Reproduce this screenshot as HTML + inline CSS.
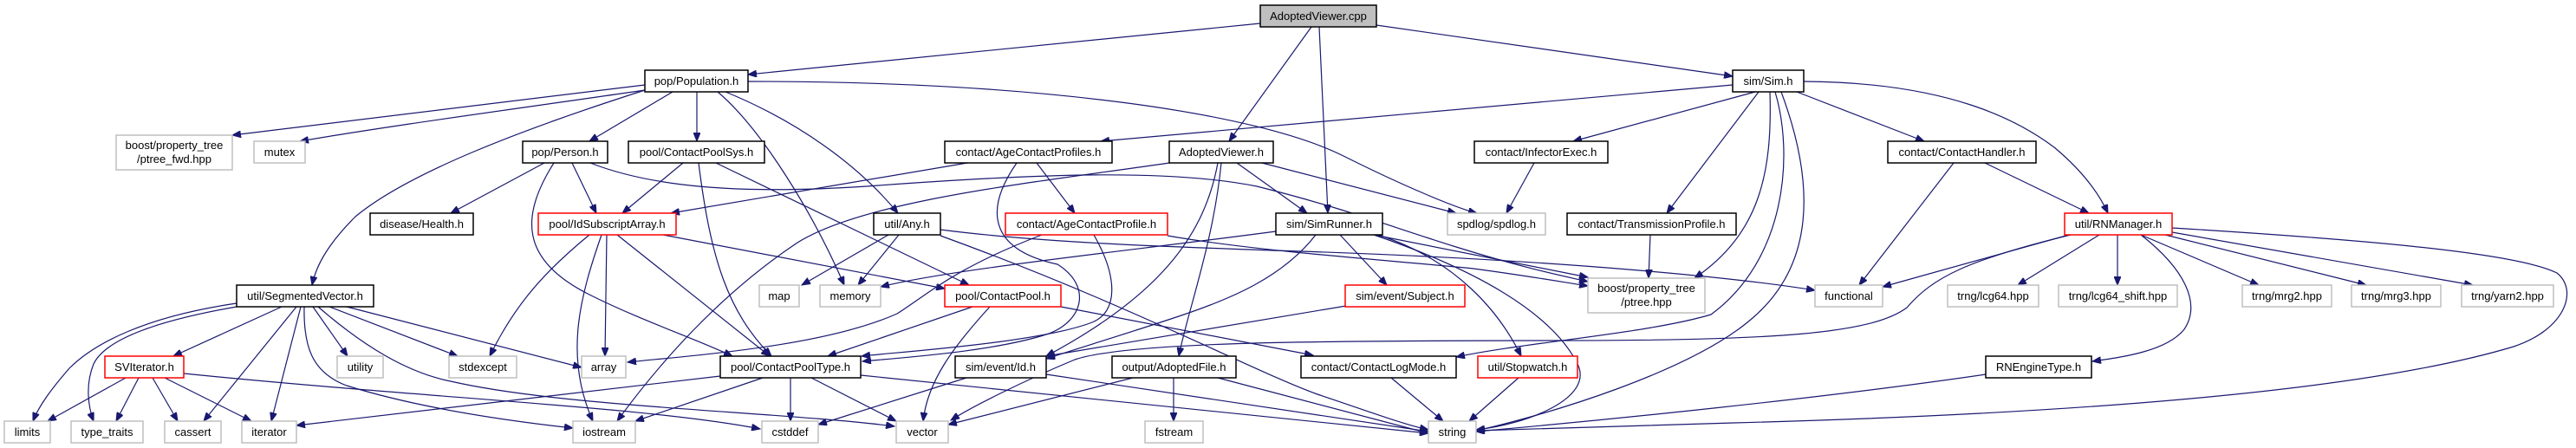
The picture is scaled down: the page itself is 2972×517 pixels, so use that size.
<!DOCTYPE html>
<html><head><meta charset="utf-8"><style>
html,body{margin:0;padding:0;background:#fff;}
svg{display:block;}
text{font-family:"Liberation Sans",sans-serif;font-size:13px;fill:#000;text-anchor:middle;}
.e{fill:none;stroke:#191970;stroke-width:1.2;marker-end:url(#a);}
.b{fill:#fff;stroke:#000;stroke-width:1.5;}
.g{fill:#fff;stroke:#bfbfbf;stroke-width:1.5;}
.r{fill:#fff;stroke:#ff0000;stroke-width:1.5;}
</style></head><body>
<svg width="2972" height="517" viewBox="0 0 2972 517" xmlns="http://www.w3.org/2000/svg">
<defs><marker id="a" markerUnits="userSpaceOnUse" markerWidth="11" markerHeight="8" refX="10" refY="4" orient="auto"><path d="M0,0 L10,4 L0,8 z" fill="#191970" stroke="#191970"/></marker></defs>
<rect width="2972" height="517" fill="#fff"/>
<!-- edges -->
<path class="e" d="M1454,27 L863,86"/>
<path class="e" d="M1513,31 L1418,163"/>
<path class="e" d="M1522,31 L1532,246"/>
<path class="e" d="M1588,29 L1999,88"/>
<path class="e" d="M744,98 L268,156"/>
<path class="e" d="M744,104 C600,125 450,145 346,163"/>
<path class="e" d="M744,104 C600,150 470,200 410,250 C380,280 365,305 360,329"/>
<path class="e" d="M776,106 L680,163"/>
<path class="e" d="M804,106 L804,163"/>
<path class="e" d="M828,106 C880,150 940,250 974,329"/>
<path class="e" d="M837,106 C920,140 990,190 1036,246"/>
<path class="e" d="M863,94 C1200,94 1450,130 1550,180 C1620,215 1680,240 1704,246"/>
<path class="e" d="M628,188 L520,246"/>
<path class="e" d="M660,188 L688,246"/>
<path class="e" d="M639,188 C600,250 600,300 680,340 C740,370 800,390 845,411"/>
<path class="e" d="M681,188 C750,215 850,225 1000,215 C1200,200 1350,195 1450,215 C1550,240 1600,260 1680,285 C1760,310 1810,320 1832,325"/>
<path class="e" d="M788,188 L718,246"/>
<path class="e" d="M806,188 C820,300 840,360 890,411"/>
<path class="e" d="M826,188 L1118,329"/>
<path class="e" d="M1116,188 L774,246"/>
<path class="e" d="M1196,188 L1240,246"/>
<path class="e" d="M1173,188 C1130,250 1150,290 1220,305 C1260,330 1250,370 1210,385 C1150,405 1050,412 995,417"/>
<path class="e" d="M1349,188 C1200,210 1000,230 920,280 C830,340 760,420 712,486"/>
<path class="e" d="M1405,188 C1390,270 1340,340 1207,411"/>
<path class="e" d="M1409,188 C1400,280 1370,360 1360,411"/>
<path class="e" d="M1427,188 L1508,246"/>
<path class="e" d="M1456,188 L1680,246"/>
<path class="e" d="M1085,265 C1200,280 1350,285 1500,290 C1800,300 2000,320 2094,335"/>
<path class="e" d="M1085,272 C1300,350 1450,430 1520,455 C1580,475 1620,490 1648,496"/>
<path class="e" d="M1347,272 C1450,290 1600,300 1700,310 C1760,318 1800,325 1832,330"/>
<path class="e" d="M1202,271 C1100,310 1070,340 1035,362 C950,400 800,410 724,418"/>
<path class="e" d="M1262,271 C1290,320 1290,360 1260,372 C1200,395 1050,405 994,411"/>
<path class="e" d="M680,271 C620,320 590,360 565,411"/>
<path class="e" d="M700,271 L698,411"/>
<path class="e" d="M694,271 C670,340 650,410 684,486"/>
<path class="e" d="M712,271 L888,411"/>
<path class="e" d="M765,271 L1090,333"/>
<path class="e" d="M1025,271 L925,329"/>
<path class="e" d="M1037,271 L990,329"/>
<path class="e" d="M1122,354 L955,411"/>
<path class="e" d="M1142,354 C1100,400 1070,440 1065,486"/>
<path class="e" d="M1224,354 L1515,410"/>
<path class="e" d="M831,434 L342,491"/>
<path class="e" d="M880,436 L733,486"/>
<path class="e" d="M912,436 L912,486"/>
<path class="e" d="M936,436 L1034,486"/>
<path class="e" d="M993,433 L1648,500"/>
<path class="e" d="M1115,436 L944,490"/>
<path class="e" d="M1207,432 L1648,498"/>
<path class="e" d="M1354,436 L1354,486"/>
<path class="e" d="M1307,436 L1094,490"/>
<path class="e" d="M1405,436 L1648,500"/>
<path class="e" d="M1472,267 C1300,290 1100,310 1016,331"/>
<path class="e" d="M1518,271 C1480,320 1420,345 1360,365 C1300,385 1250,400 1207,414"/>
<path class="e" d="M1546,271 L1600,329"/>
<path class="e" d="M1585,271 L1832,320"/>
<path class="e" d="M1590,271 C1680,300 1730,360 1755,411"/>
<path class="e" d="M1585,271 C1700,310 1790,360 1820,420 C1840,460 1760,490 1703,496"/>
<path class="e" d="M1553,353 L1207,411"/>
<path class="e" d="M1999,98 L1270,163"/>
<path class="e" d="M2025,106 L1815,163"/>
<path class="e" d="M2029,106 L1923,246"/>
<path class="e" d="M2042,106 C2045,200 2030,270 1955,321"/>
<path class="e" d="M2048,106 C2070,180 2060,300 1974,363 C1900,385 1760,395 1680,412"/>
<path class="e" d="M2055,106 C2090,200 2100,300 2022,367 C1950,430 1780,480 1703,497"/>
<path class="e" d="M2073,106 L2220,163"/>
<path class="e" d="M2081,94 C2250,95 2330,140 2370,170 C2400,195 2420,220 2432,246"/>
<path class="e" d="M1770,188 L1738,246"/>
<path class="e" d="M1904,271 L1902,321"/>
<path class="e" d="M1605,436 L1665,486"/>
<path class="e" d="M1752,436 L1695,486"/>
<path class="e" d="M2254,188 L2145,329"/>
<path class="e" d="M2290,188 L2410,246"/>
<path class="e" d="M2387,271 L2172,331"/>
<path class="e" d="M2422,271 L2328,329"/>
<path class="e" d="M2443,271 L2443,329"/>
<path class="e" d="M2470,271 L2606,329"/>
<path class="e" d="M2498,271 L2730,329"/>
<path class="e" d="M2506,268 L2853,329"/>
<path class="e" d="M2470,271 C2520,310 2540,350 2520,380 C2500,405 2450,412 2414,417"/>
<path class="e" d="M2506,263 C2700,275 2900,290 2950,315 C2975,335 2960,380 2900,400 C2700,460 2300,480 2000,488 C1850,492 1760,495 1703,497"/>
<path class="e" d="M2389,271 C2270,300 2230,320 2200,355 C2160,385 2050,393 1800,393 C1500,393 1300,395 1240,415 C1180,440 1120,470 1097,485"/>
<path class="e" d="M2291,432 C2100,460 1850,485 1703,498"/>
<path class="e" d="M273,350 C170,365 110,395 80,425 C60,448 45,468 38,486"/>
<path class="e" d="M273,354 C170,372 120,395 108,420 C98,445 102,470 108,486"/>
<path class="e" d="M325,354 L200,411"/>
<path class="e" d="M342,354 L235,486"/>
<path class="e" d="M347,354 L313,486"/>
<path class="e" d="M351,354 C350,400 360,430 400,445 C480,470 580,485 661,494"/>
<path class="e" d="M361,354 L401,411"/>
<path class="e" d="M367,354 C420,400 470,430 520,440 C650,470 900,475 1032,492"/>
<path class="e" d="M380,354 L528,411"/>
<path class="e" d="M400,354 L671,424"/>
<path class="e" d="M145,436 L55,486"/>
<path class="e" d="M160,436 L134,486"/>
<path class="e" d="M176,436 L205,486"/>
<path class="e" d="M190,436 L290,486"/>
<path class="e" d="M212,431 C500,460 750,470 877,495"/>
<!-- nodes -->
<rect x="1454" y="6" width="134" height="25" fill="#bfbfbf" stroke="#000" stroke-width="1.5"/><text x="1521" y="23">AdoptedViewer.cpp</text>
<rect class="b" x="744" y="81" width="119" height="25"/><text x="803.5" y="98">pop/Population.h</text>
<rect class="b" x="1999" y="81" width="82" height="25"/><text x="2040" y="98">sim/Sim.h</text>
<rect class="g" x="134" y="156" width="134" height="40"/><text x="201" y="172">boost/property_tree</text><text x="201" y="188">/ptree_fwd.hpp</text>
<rect class="g" x="293" y="163" width="59" height="25"/><text x="322.5" y="180">mutex</text>
<rect class="b" x="603" y="163" width="98" height="25"/><text x="652" y="180">pop/Person.h</text>
<rect class="b" x="725" y="163" width="157" height="25"/><text x="803.5" y="180">pool/ContactPoolSys.h</text>
<rect class="b" x="1090" y="163" width="193" height="25"/><text x="1186.5" y="180">contact/AgeContactProfiles.h</text>
<rect class="b" x="1349" y="163" width="120" height="25"/><text x="1409" y="180">AdoptedViewer.h</text>
<rect class="b" x="1701" y="163" width="154" height="25"/><text x="1778" y="180">contact/InfectorExec.h</text>
<rect class="b" x="2178" y="163" width="171" height="25"/><text x="2263.5" y="180">contact/ContactHandler.h</text>
<rect class="b" x="427" y="246" width="119" height="25"/><text x="486.5" y="263">disease/Health.h</text>
<rect class="r" x="621" y="246" width="159" height="25"/><text x="700.5" y="263">pool/IdSubscriptArray.h</text>
<rect class="b" x="1008" y="246" width="77" height="25"/><text x="1046.5" y="263">util/Any.h</text>
<rect class="r" x="1160" y="246" width="187" height="25"/><text x="1253.5" y="263">contact/AgeContactProfile.h</text>
<rect class="b" x="1472" y="246" width="123" height="25"/><text x="1533.5" y="263">sim/SimRunner.h</text>
<rect class="g" x="1670" y="246" width="113" height="25"/><text x="1726.5" y="263">spdlog/spdlog.h</text>
<rect class="b" x="1808" y="246" width="195" height="25"/><text x="1905.5" y="263">contact/TransmissionProfile.h</text>
<rect class="r" x="2382" y="246" width="124" height="25"/><text x="2444" y="263">util/RNManager.h</text>
<rect class="b" x="273" y="329" width="158" height="25"/><text x="352" y="346">util/SegmentedVector.h</text>
<rect class="g" x="876" y="329" width="46" height="25"/><text x="899" y="346">map</text>
<rect class="g" x="946" y="329" width="70" height="25"/><text x="981" y="346">memory</text>
<rect class="r" x="1090" y="329" width="134" height="25"/><text x="1157" y="346">pool/ContactPool.h</text>
<rect class="r" x="1552" y="329" width="138" height="25"/><text x="1621" y="346">sim/event/Subject.h</text>
<rect class="g" x="1832" y="321" width="135" height="40"/><text x="1899.5" y="337">boost/property_tree</text><text x="1899.5" y="353">/ptree.hpp</text>
<rect class="g" x="2094" y="329" width="78" height="25"/><text x="2133" y="346">functional</text>
<rect class="g" x="2247" y="329" width="105" height="25"/><text x="2299.5" y="346">trng/lcg64.hpp</text>
<rect class="g" x="2375" y="329" width="137" height="25"/><text x="2443.5" y="346">trng/lcg64_shift.hpp</text>
<rect class="g" x="2587" y="329" width="103" height="25"/><text x="2638.5" y="346">trng/mrg2.hpp</text>
<rect class="g" x="2713" y="329" width="103" height="25"/><text x="2764.5" y="346">trng/mrg3.hpp</text>
<rect class="g" x="2840" y="329" width="106" height="25"/><text x="2893" y="346">trng/yarn2.hpp</text>
<rect class="r" x="121" y="411" width="91" height="25"/><text x="166.5" y="428">SVIterator.h</text>
<rect class="g" x="389" y="411" width="53" height="25"/><text x="415.5" y="428">utility</text>
<rect class="g" x="518" y="411" width="78" height="25"/><text x="557" y="428">stdexcept</text>
<rect class="g" x="671" y="411" width="51" height="25"/><text x="696.5" y="428">array</text>
<rect class="b" x="831" y="411" width="162" height="25"/><text x="912" y="428">pool/ContactPoolType.h</text>
<rect class="b" x="1102" y="411" width="105" height="25"/><text x="1154.5" y="428">sim/event/Id.h</text>
<rect class="b" x="1283" y="411" width="143" height="25"/><text x="1354.5" y="428">output/AdoptedFile.h</text>
<rect class="b" x="1501" y="411" width="179" height="25"/><text x="1590.5" y="428">contact/ContactLogMode.h</text>
<rect class="r" x="1705" y="411" width="115" height="25"/><text x="1762.5" y="428">util/Stopwatch.h</text>
<rect class="b" x="2291" y="411" width="122" height="25"/><text x="2352" y="428">RNEngineType.h</text>
<rect class="g" x="5" y="486" width="53" height="25"/><text x="31.5" y="503">limits</text>
<rect class="g" x="82" y="486" width="83" height="25"/><text x="123.5" y="503">type_traits</text>
<rect class="g" x="190" y="486" width="65" height="25"/><text x="222.5" y="503">cassert</text>
<rect class="g" x="279" y="486" width="63" height="25"/><text x="310.5" y="503">iterator</text>
<rect class="g" x="661" y="486" width="72" height="25"/><text x="697" y="503">iostream</text>
<rect class="g" x="879" y="486" width="65" height="25"/><text x="911.5" y="503">cstddef</text>
<rect class="g" x="1034" y="486" width="60" height="25"/><text x="1064" y="503">vector</text>
<rect class="g" x="1321" y="486" width="67" height="25"/><text x="1354.5" y="503">fstream</text>
<rect class="g" x="1648" y="486" width="55" height="25"/><text x="1675.5" y="503">string</text>
</svg>
</body></html>
